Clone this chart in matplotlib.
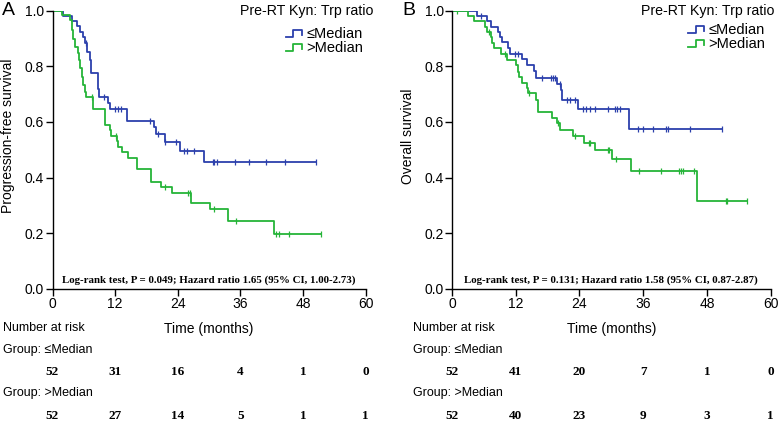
import numpy as np
import matplotlib
matplotlib.use("Agg")
import matplotlib.pyplot as plt
import matplotlib.transforms as mtransforms
from matplotlib.legend_handler import HandlerBase
from matplotlib.lines import Line2D

plt.rcParams['font.family'] = ['Liberation Sans', 'DejaVu Sans']

# ---- data ----
# panel A: progression-free survival
pfs_low_times = [2.0, 3.7, 4.6, 5.3, 5.9, 6.2, 6.7, 7.1, 7.4, 8.7, 8.9, 10.7, 11.0,
                 14.2, 19.5, 19.9, 21.5, 24.4, 29.1]
pfs_low_surv = [0.982, 0.964, 0.946, 0.925, 0.905, 0.884, 0.853, 0.823, 0.775, 0.717, 0.69,
                0.667, 0.647, 0.604, 0.581, 0.555, 0.528, 0.495, 0.455]
pfs_low_cens = [6.5, 9.8, 11.9, 12.5, 13.1, 18.6, 20.3, 21.6, 23.7, 25.1, 25.7, 27.1, 30.7,
                31.0, 31.5, 34.9, 37.7, 40.9, 44.6, 50.4]

pfs_high_times = [1.75, 3.35, 3.7, 4.0, 4.4, 4.8, 5.1, 5.3, 5.6, 5.9, 6.2, 6.4, 7.7, 10.1,
                  11.0, 11.2, 12.3, 12.5, 13.4, 14.4, 16.1, 18.9, 20.8, 22.8, 26.6, 30.2,
                  33.6, 42.5]
pfs_high_surv = [0.984, 0.966, 0.93, 0.90, 0.87, 0.847, 0.822, 0.793, 0.763, 0.733, 0.709,
                 0.689, 0.646, 0.59, 0.57, 0.55, 0.53, 0.51, 0.49, 0.47, 0.43, 0.385, 0.365,
                 0.345, 0.31, 0.287, 0.245, 0.196]
pfs_high_cens = [7.5, 12.2, 21.5, 25.9, 26.3, 31.0, 35.2, 42.9, 43.3, 45.3, 51.4]

# panel B: overall survival
os_low_times = [4.8, 6.6, 7.4, 8.7, 9.1, 9.5, 10.5, 11.0, 13.1, 14.2, 15.4, 15.8, 19.8, 20.5,
                20.8, 23.7, 33.4]
os_low_surv = [0.981, 0.962, 0.943, 0.924, 0.905, 0.886, 0.865, 0.846, 0.825, 0.805, 0.783,
               0.759, 0.735, 0.713, 0.68, 0.646, 0.574]
os_low_cens = [5.4, 11.8, 12.5, 17.0, 18.6, 19.0, 19.4, 20.3, 21.7, 22.3, 23.1, 24.7, 25.3,
               25.9, 26.9, 29.4, 30.7, 31.1, 31.6, 35.0, 36.0, 37.9, 40.2, 40.7, 44.8, 50.8]

os_high_times = [3.0, 4.1, 6.3, 6.6, 7.4, 7.6, 7.9, 9.3, 10.4, 12.1, 12.4, 12.7, 13.2, 14.2,
                 14.4, 15.9, 16.2, 18.8, 19.8, 20.3, 22.7, 24.9, 26.9, 30.2, 33.7, 46.2]
os_high_surv = [0.981, 0.962, 0.943, 0.925, 0.904, 0.885, 0.865, 0.844, 0.823, 0.805, 0.781,
                0.763, 0.739, 0.721, 0.703, 0.679, 0.637, 0.615, 0.595, 0.571, 0.549, 0.525,
                0.499, 0.467, 0.425, 0.317]
os_high_cens = [0.9, 6.9, 9.9, 14.5, 19.9, 23.2, 25.7, 26.0, 29.3, 29.5, 30.9, 35.2, 39.4,
                42.7, 43.1, 43.4, 45.6, 51.5, 51.8, 55.5]

risk_times = [0, 12, 24, 36, 48, 60]
pfs_risk_low = [52, 31, 16, 4, 1, 0]
pfs_risk_high = [52, 27, 14, 5, 1, 1]
os_risk_low = [52, 41, 20, 7, 1, 0]
os_risk_high = [52, 40, 23, 9, 3, 1]

group_labels = ['\u2264Median', '>Median']
stats_a = 'Log-rank test, P = 0.049; Hazard ratio 1.65 (95% CI, 1.00-2.73)'
stats_b = 'Log-rank test, P = 0.131; Hazard ratio 1.58 (95% CI, 0.87-2.87)'

blue = '#2c40ac'
green = '#25b438'


class StepHandler(HandlerBase):
    # little step-shaped legend key like the original
    def create_artists(self, legend, orig_handle, xdescent, ydescent, width, height,
                       fontsize, trans):
        xs = np.array([0.0, 0.45, 0.45, 1.0, 1.0]) * width - xdescent
        ys = np.array([0.15, 0.15, 0.8, 0.8, 0.35]) * height - ydescent
        ln = Line2D(xs, ys, color=orig_handle.get_color(), lw=1.3)
        ln.set_transform(trans)
        return [ln]


def km(ax, times, surv, cens, color):
    end = max(max(cens), max(times))
    x = np.r_[0, times, end]
    y = np.r_[1.0, surv, surv[-1]]
    line, = ax.step(x, y, where='post', color=color, lw=1.3)
    # survival value at each censor time
    idx = np.searchsorted(x, cens, side='right') - 1
    ax.plot(cens, y[idx], ls='none', marker='|', ms=5, mew=0.9, color=color)
    return line


def panel(ax, letter, ylabel, curves, stats, risk_low, risk_high, title_x, leg_x, leg_y,
          letter_x, table_x, ylab_x):
    lines = [km(ax, *c) for c in curves]
    ax.set_xlim(0, 60)
    ax.set_ylim(0, 1)
    ax.set_xticks(risk_times)
    ax.set_yticks(np.arange(0, 1.01, 0.2))
    ax.yaxis.set_major_formatter(plt.FormatStrFormatter('%.1f'))
    ax.spines['top'].set_visible(False)
    ax.spines['right'].set_visible(False)
    for s in ['left', 'bottom']:
        ax.spines[s].set_linewidth(1.0)
    ax.tick_params(labelsize=10, length=5, width=1.0, pad=1)
    ax.set_xlabel('Time (months)', fontsize=10, labelpad=0)
    ax.xaxis.set_label_coords(0.5, -0.12)
    ax.set_ylabel(ylabel, fontsize=10)
    ax.yaxis.set_label_coords(ylab_x, 0.55)

    ax.text(title_x, 1.0, 'Pre-RT Kyn: Trp ratio', transform=ax.transAxes,
            ha='right', va='center', fontsize=10.2)
    ax.legend(lines, group_labels, handler_map={Line2D: StepHandler()},
              loc='upper right', bbox_to_anchor=(leg_x, leg_y), frameon=False,
              fontsize=10.5, handlelength=1.1, handletextpad=0.3, labelspacing=0.0,
              borderpad=0, borderaxespad=0)
    ax.text(30, 0.03, stats, ha='center', va='center', fontsize=7.8,
            family='Liberation Serif', weight='bold')
    ax.text(letter_x, 1.0, letter, transform=ax.transAxes, ha='left', va='center',
            fontsize=14)

    # number at risk table
    ax.text(table_x, -0.141, 'Number at risk', transform=ax.transAxes,
            ha='left', va='center', fontsize=9)
    ax.text(table_x, -0.22, 'Group: ' + group_labels[0], transform=ax.transAxes,
            ha='left', va='center', fontsize=9)
    ax.text(table_x, -0.375, 'Group: ' + group_labels[1], transform=ax.transAxes,
            ha='left', va='center', fontsize=9)
    tr = mtransforms.blended_transform_factory(ax.transData, ax.transAxes)
    for t, a, b in zip(risk_times, risk_low, risk_high):
        ax.text(t, -0.30, str(a), transform=tr, ha='center', va='center', fontsize=9.5,
                family='Liberation Serif', weight='bold')
        ax.text(t, -0.458, str(b), transform=tr, ha='center', va='center', fontsize=9.5,
                family='Liberation Serif', weight='bold')


fig = plt.figure(figsize=(7.79, 4.21), dpi=100)
ax1 = fig.add_axes([52.5 / 779, 1 - 288.7 / 421, 313.2 / 779, 278 / 421])
ax2 = fig.add_axes([452 / 779, 1 - 288.7 / 421, 318.7 / 779, 278 / 421])

panel(ax1, 'A', 'Progression-free survival',
      [(pfs_low_times, pfs_low_surv, pfs_low_cens, blue),
       (pfs_high_times, pfs_high_surv, pfs_high_cens, green)],
      stats_a, pfs_risk_low, pfs_risk_high, 1.026, 0.993, 0.94, -0.161, -0.158, -0.12)
panel(ax2, 'B', 'Overall survival',
      [(os_low_times, os_low_surv, os_low_cens, blue),
       (os_high_times, os_high_surv, os_high_cens, green)],
      stats_b, os_risk_low, os_risk_high, 1.011, 0.984, 0.955, -0.155, -0.123, -0.116)

fig.savefig('out.png', dpi=100)
